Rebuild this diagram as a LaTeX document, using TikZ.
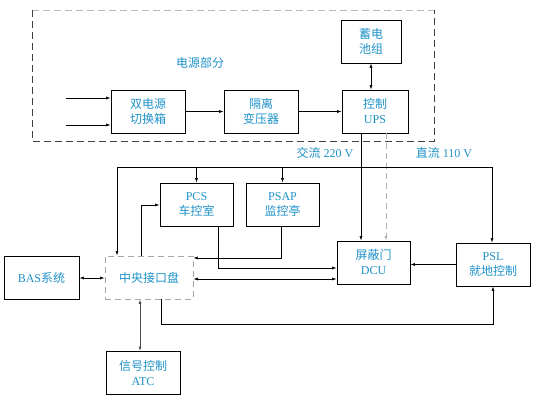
\documentclass[tikz,border=0pt]{standalone}
\usepackage{fontspec}
\setmainfont{Liberation Serif}
\newfontfamily\cjk{Noto Sans CJK SC}
\newcommand{\zh}[1]{{\cjk #1}}
\usepackage{tikz}
\usetikzlibrary{arrows.meta}
\usetikzlibrary{calc}
\definecolor{txtblue}{RGB}{30,145,200}

\begin{document}
\begin{tikzpicture}[x=1pt, y=-1pt,
    >={Latex[length=4.5pt,width=3pt]},
    box/.style={draw, thick, minimum height=43pt, align=center, text=txtblue,
                font=\fontsize{12}{15}\selectfont, inner sep=1pt},
    dbox/.style={box, draw=gray!70, dash pattern=on 6pt off 4pt},
    lbl/.style={text=txtblue, font=\fontsize{12}{14}\selectfont},
    wire/.style={semithick}]

  \useasboundingbox (0,0) rectangle (538,401);

	%power part
  \draw[gray!55, thick, dash pattern=on 7pt off 4pt] (32,10) -- (434,10);
  \draw[black!75, semithick, dash pattern=on 7pt off 4pt] (32,10) -- (32,141) -- (434,141) -- (434,10);
  \node[lbl] (ptitle) at (200,63) {\zh{电源部分}};

    \foreach \x/\y/\w/\name/\txt in {148/111.5/74/dual/{\zh{双电源}\\\zh{切换箱}},
        261/111.5/74/iso/{\zh{隔离}\\\zh{变压器}},
        375/111.5/66/ups/{\zh{控制}\\UPS},
        371/41.5/60/bat/{\zh{蓄电}\\\zh{池组}},
        196.5/204.5/73/pcs/{PCS\\\zh{车控室}},
        282.5/204.5/73/psap/{PSAP\\\zh{监控亭}},
        41.5/278/75/bas/{BAS\zh{系统}},
        143/373/74/atc/{\zh{信号控制}\\ATC},
        373.5/262.5/73/dcu/{\zh{屏蔽门}\\DCU},
        493/264.5/74/psl/{PSL\\\zh{就地控制}}}{
           \node[box, minimum width=\w pt] (\name) at (\x,\y) {\txt};
    }
  \node[dbox, minimum width=88pt] (cip) at (149,277.5) {\zh{中央接口盘}};

  \node[lbl] (ac) at (325,153) {\zh{交流} 220 V};
  \node[lbl] (dc) at (444,153) {\zh{直流} 110 V};

	%inputs
  \coordinate (in1) at (66,98);
  \coordinate (in2) at (66,125);
  \draw[wire,->] (in1) -- (in1 -| dual.west);
  \draw[wire,->] (in2) -- (in2 -| dual.west);
  \draw[wire,->] (dual) -- (iso);
  \draw[wire,->] (iso) -- (ups);
  \draw[wire,<->] (bat.south) -- (bat.south |- ups.north);

	%ups outputs
  \coordinate (acx) at (361,0);
  \coordinate (dcx) at (386,0);
  \draw[wire,->] (acx |- ups.south) -- (acx |- dcu.north);
  \draw[wire,->,gray!60,thick,dash pattern=on 6pt off 4pt] (dcx |- ups.south) -- (dcx |- dcu.north);

	%bus
  \coordinate (busL) at (117,167);
  \coordinate (busR) at (492,167);
  \draw[wire] (busL) -- (busR);
  \draw[wire,->] (busL) -- (busL |- cip.north);
  \draw[wire,->] (busR) -- (busR |- psl.north);
  \draw[wire,->] (pcs.north |- busL) -- (pcs.north);
  \draw[wire,->] (psap.north |- busL) -- (psap.north);

	%control lines
  \coordinate (c1) at (141,205);
  \draw[wire,->] (c1 |- cip.north) -- (c1) -- (c1 -| pcs.west);
  \coordinate (c2) at (218,268);
  \draw[wire,->] (c2 |- pcs.south) -- (c2) -- (c2 -| dcu.west);
  \coordinate (c3) at (281,258);
  \draw[wire,->] (c3 |- psap.south) -- (c3) -- (c3 -| cip.east);
  \coordinate (c4) at (0,279);
  \draw[wire,<->] (c4 -| cip.east) -- (c4 -| dcu.west);
  \coordinate (c5) at (161,324);
  \draw[wire,->] (c5 |- cip.south) -- (c5) -- (c5 -| psl.south) -- (psl.south);
  \draw[wire,->] (psl.west) -- (psl.west -| dcu.east);
  \draw[wire,<->] (bas.east) -- (bas.east -| cip.west);
  \coordinate (c6) at (140,0);
  \draw[wire,<->,black!70,thick] (c6 |- cip.south) -- (c6 |- atc.north);

\end{tikzpicture}
\end{document}
